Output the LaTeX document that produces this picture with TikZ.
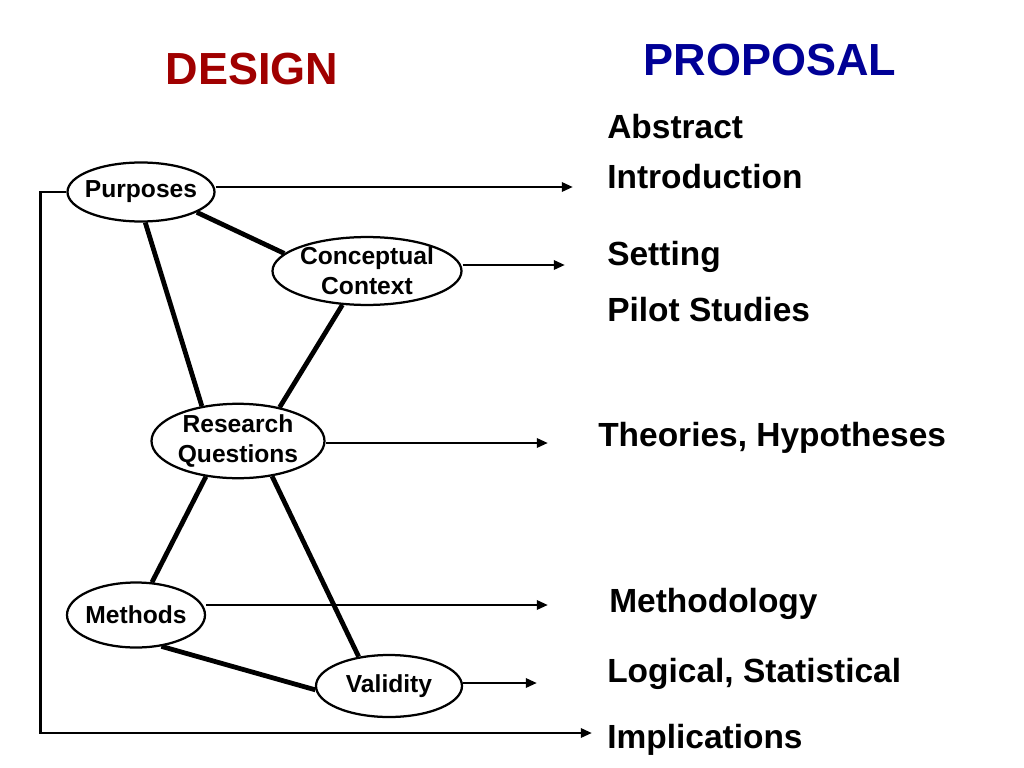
\documentclass[tikz,border=0pt]{standalone}
\usepackage{fontspec}
\setmainfont{Liberation Sans}
\usepackage{xcolor}
\usetikzlibrary{shapes.geometric,arrows.meta}

\definecolor{designred}{RGB}{160,0,0}
\definecolor{proposalblue}{RGB}{0,0,150}

\begin{document}
\begin{tikzpicture}[x=0.025cm, y=-0.025cm, >={Triangle[length=8pt,width=6.5pt]},
    part/.style={ellipse, draw, line width=1.6pt, inner xsep=-3pt, inner ysep=0pt, align=center,
      font=\fontsize{17.5}{21.3}\selectfont\bfseries},
    link/.style={line width=3.4pt},
    arrow/.style={->, line width=2.1pt},
    item/.style={anchor=base west, inner sep=0pt, font=\fontsize{23.8}{28}\selectfont\bfseries},
    title/.style={anchor=base, inner sep=0pt, font=\fontsize{32}{38}\selectfont\bfseries}]

  \useasboundingbox (0,0) rectangle (1024,768);

  % headings
  \node[title, text=designred] (design) at (252,85) {DESIGN};
  \node[title, text=proposalblue] (proposal) at (770,76) {PROPOSAL};

  % design parts (sizes in px of the 1024 wide page)
  \node[part, minimum width=147*0.025cm, minimum height=59*0.025cm] (pur) at (141,192) {Purposes};
  \node[part, minimum width=189*0.025cm, minimum height=67*0.025cm] (con) at (367,271) {Conceptual\\Context};
  \node[part, minimum width=173*0.025cm, minimum height=73*0.025cm] (rq) at (238,441) {Research\\Questions};
  \node[part, minimum width=138*0.025cm, minimum height=65*0.025cm] (meth) at (136,615) {Methods};
  \node[part, minimum width=146*0.025cm, minimum height=62*0.025cm] (val) at (389,686) {Validity};

  % proposal sections
  \node[item] (abs) at (607,139) {Abstract};
  \node[item] (intro) at (607,189) {Introduction};
  \node[item] (set) at (607,265) {Setting};
  \node[item] (pilot) at (607,321) {Pilot Studies};
  \node[item] (theo) at (598,446) {Theories, Hypotheses};
  \node[item] (methy) at (609,612) {Methodology};
  \node[item] (logic) at (607,682) {Logical, Statistical};
  \node[item] (impl) at (607,748) {Implications};

  % arrow ends
  \coordinate (aintro) at (573,187);
  \coordinate (aset) at (565,265);
  \coordinate (atheo) at (548,443);
  \coordinate (amethy) at (548,605);
  \coordinate (alogic) at (537,683);
  \coordinate (aimpl) at (592,733);

  % links between parts
  \draw[link] (pur.-20) -- (con.168);
  \draw[link] (pur.-82) -- (rq.136);
  \draw[link] (con.-126) -- (rq.39);
  \draw[link] (rq.-132) -- (meth.64);
  \draw[link] (rq.-46) -- (val.136);
  \draw[link] (meth.-51) -- (val.183);

  % arrows to the proposal
  \draw[arrow] (pur.east |- aintro) -- (aintro);
  \draw[arrow] (con.east |- aset) -- (aset);
  \draw[arrow] (rq.east |- atheo) -- (atheo);
  \draw[arrow] (meth.east |- amethy) -- (amethy);
  \draw[arrow] (val.east |- alogic) -- (alogic);
  \draw[arrow] (pur.west) -- ++(-26,0) |- (aimpl);

\end{tikzpicture}
\end{document}
